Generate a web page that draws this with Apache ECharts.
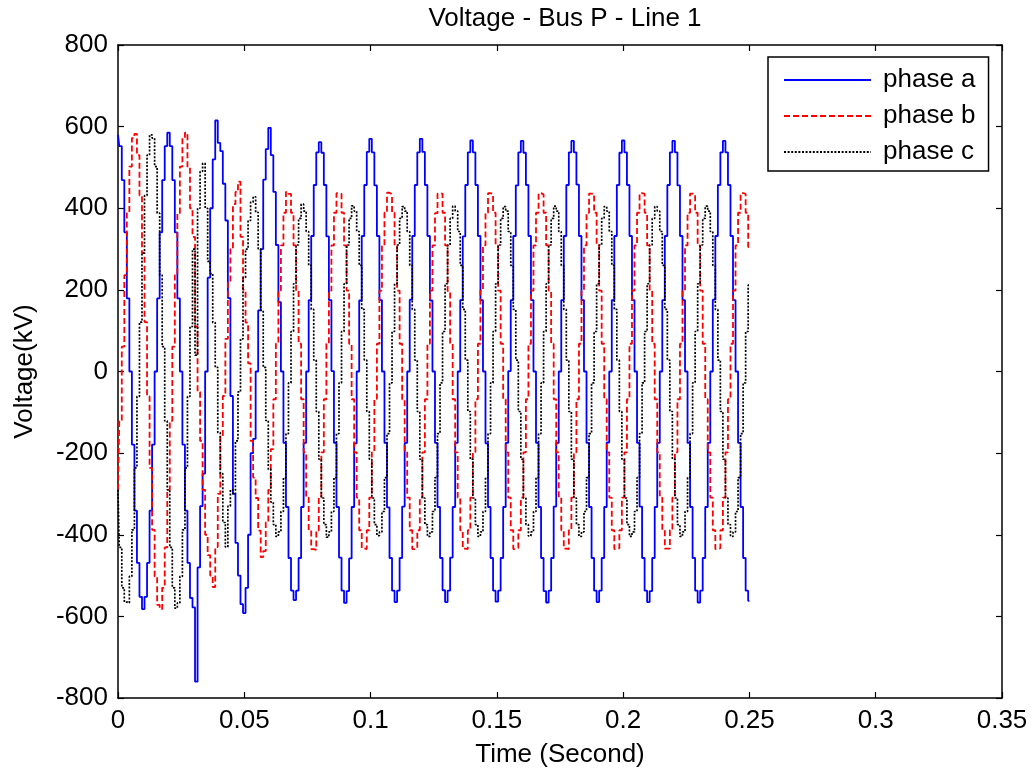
<!DOCTYPE html>
<html>
<head>
<meta charset="utf-8">
<script src="https://cdn.jsdelivr.net/npm/echarts@6/dist/echarts.min.js"></script>
<style>
html,body{margin:0;padding:0;background:#fff;}
#chart{width:1036px;height:774px;}
</style>
</head>
<body>
<div id="chart"></div>
<script>
// ---- data (kV), sampled every 1 ms from t = 0 s to t = 0.25 s ----
const seriesNames = ['phase a', 'phase b', 'phase c'];
const sampleStep = 0.001; // s
const xTickLabels = ['0', '0.05', '0.1', '0.15', '0.2', '0.25', '0.3', '0.35'];
const yTickLabels = ['-800', '-600', '-400', '-200', '0', '200', '400', '600', '800'];

const phaseA = [
  580, 552, 469, 341, 179, 0, -179, -341, -469, -552,
  -582, -552, -469, -341, -179, 0, 179, 341, 469, 552,
  585, 552, 469, 341, 179, 0, -179, -341, -469, -555,
  -578, -760, -480, -330, -250, 0, 230, 400, 520, 615,
  560, 540, 460, 370, 180, -60, -300, -420, -500, -570,
  -592, -530, -400, -200, -165, 0, 150, 300, 470, 545,
  597, 530, 440, 310, 170, 0, -175, -332, -457, -537,
  -560, -537, -457, -332, -175, 0, 175, 332, 457, 537,
  562, 536, 457, 331, 175, 1, -175, -332, -456, -537,
  -567, -538, -458, -332, -176, 0, 174, 332, 457, 538,
  570, 537, 456, 332, 175, 0, -175, -333, -457, -537,
  -565, -537, -457, -331, -175, 0, 176, 332, 457, 537,
  570, 538, 457, 332, 174, 0, -175, -332, -457, -536,
  -565, -537, -456, -332, -175, 0, 175, 331, 457, 537,
  566, 537, 457, 332, 175, 0, -176, -332, -457, -537,
  -564, -537, -457, -332, -175, 1, 175, 332, 456, 537,
  565, 536, 457, 332, 175, 0, -175, -332, -457, -538,
  -566, -537, -457, -331, -175, 0, 175, 332, 457, 537,
  565, 537, 458, 332, 175, 0, -175, -332, -457, -537,
  -565, -537, -457, -332, -174, 0, 175, 332, 457, 536,
  566, 537, 457, 332, 175, 0, -175, -331, -457, -537,
  -565, -538, -457, -332, -175, 0, 175, 332, 457, 537,
  565, 537, 456, 332, 175, 0, -175, -332, -457, -537,
  -566, -537, -457, -332, -175, 0, 176, 332, 457, 537,
  565, 537, 457, 332, 175, 0, -175, -332, -457, -537,
  -562
];

const phaseB = [
  -290, -121, 61, 236, 388, 502, 572, 582, 530, 431,
  290, 121, -61, -236, -388, -502, -572, -582, -530, -431,
  -290, -121, 61, 236, 388, 502, 572, 585, 500, 400,
  330, 110, -50, -170, -290, -400, -450, -500, -528, -430,
  -300, -160, -60, 80, 220, 300, 410, 440, 465, 330,
  200, 120, 20, -170, -260, -310, -390, -455, -440, -370,
  -290, -190, -68, 68, 198, 309, 389, 440, 435, 389,
  309, 198, 68, -68, -198, -309, -389, -435, -437, -389,
  -309, -198, -68, 68, 198, 309, 389, 437, 435, 389,
  309, 198, 68, -68, -198, -309, -389, -433, -435, -389,
  -309, -198, -67, 68, 198, 309, 389, 438, 434, 389,
  309, 198, 68, -68, -198, -309, -389, -435, -433, -389,
  -309, -198, -68, 68, 198, 309, 388, 436, 436, 389,
  309, 197, 68, -68, -198, -309, -389, -434, -435, -389,
  -309, -198, -68, 68, 198, 309, 389, 437, 435, 389,
  309, 198, 68, -68, -198, -309, -389, -435, -432, -389,
  -309, -198, -68, 68, 198, 309, 389, 437, 434, 389,
  309, 198, 68, -68, -198, -309, -389, -434, -435, -389,
  -309, -198, -68, 68, 198, 309, 389, 436, 436, 389,
  309, 198, 68, -68, -198, -309, -389, -435, -433, -389,
  -309, -198, -68, 68, 198, 309, 389, 437, 435, 389,
  309, 198, 68, -68, -198, -309, -389, -434, -434, -389,
  -309, -198, -68, 68, 198, 309, 389, 436, 435, 389,
  309, 198, 68, -68, -198, -309, -389, -435, -433, -389,
  -309, -198, -68, 68, 198, 309, 389, 437, 435, 389,
  305
];

const phaseC = [
  -290, -431, -530, -565, -567, -502, -388, -236, -61, 121,
  290, 431, 530, 580, 572, 502, 388, 236, 61, -121,
  -290, -431, -530, -580, -567, -502, -388, -236, -61, 110,
  300, 40, 400, 490, 510, 400, 270, 240, 120, 10,
  -150, -250, -370, -430, -330, -290, -300, -170, -50, 80,
  230, 300, 370, 415, 428, 390, 300, 150, 10, -120,
  -240, -320, -375, -404, -393, -343, -260, -152, -28, 98,
  215, 310, 375, 410, 393, 343, 260, 152, 28, -98,
  -215, -310, -375, -406, -393, -343, -260, -152, -28, 98,
  215, 310, 375, 406, 393, 343, 260, 152, 28, -98,
  -215, -310, -375, -402, -393, -343, -260, -152, -28, 98,
  215, 310, 375, 404, 393, 343, 260, 152, 28, -98,
  -215, -310, -375, -404, -393, -343, -260, -152, -28, 98,
  215, 310, 375, 405, 393, 343, 260, 152, 28, -98,
  -215, -310, -375, -404, -393, -343, -260, -152, -28, 98,
  215, 310, 375, 404, 393, 343, 260, 152, 28, -98,
  -215, -310, -375, -403, -393, -343, -260, -152, -28, 98,
  215, 310, 375, 405, 393, 343, 260, 152, 28, -98,
  -215, -310, -375, -404, -393, -343, -260, -152, -28, 98,
  215, 310, 375, 404, 393, 343, 260, 152, 28, -98,
  -215, -310, -375, -404, -393, -343, -260, -152, -28, 98,
  215, 310, 375, 404, 393, 343, 260, 152, 28, -98,
  -215, -310, -375, -404, -393, -343, -260, -152, -28, 98,
  215, 310, 375, 405, 393, 343, 260, 152, 28, -98,
  -215, -310, -375, -404, -393, -343, -260, -152, -28, 98,
  212
];

// ---- build chart ----
const time = phaseA.map((_, i) => +(i * sampleStep).toFixed(3));
const pairs = arr => arr.map((v, i) => [time[i], v]);

const FONT = '"Liberation Sans", Arial, Helvetica, sans-serif';
const xMin = 0, xMax = 0.35, xInt = 0.05;
const yMin = -800, yMax = 800, yInt = 200;

const tickCommon = {
  axisLine: { show: true, onZero: false, lineStyle: { color: '#000', width: 1.5 } },
  axisTick: { show: true, inside: true, length: 6, lineStyle: { color: '#000', width: 1.2 } },
  splitLine: { show: false }
};

const chart = echarts.init(document.getElementById('chart'), null, { renderer: 'canvas' });
chart.setOption({
  animation: false,
  backgroundColor: '#fff',
  textStyle: { fontFamily: FONT, color: '#000' },
  title: {
    text: 'Voltage - Bus P - Line 1',
    left: 560,
    top: 1,
    textAlign: 'center',
    textStyle: { fontFamily: FONT, fontSize: 26, fontWeight: 'normal', color: '#000' }
  },
  grid: { left: 118, right: 34, top: 45, bottom: 76, containLabel: false },
  legend: {
    orient: 'vertical',
    left: 768,
    top: 57,
    padding: [7, 13, 3, 15],
    itemWidth: 87,
    itemHeight: 14,
    itemGap: 4,
    backgroundColor: '#fff',
    borderColor: '#000',
    borderWidth: 1.5,
    borderRadius: 0,
    itemStyle: { opacity: 0 },
    data: seriesNames,
    textStyle: { fontFamily: FONT, fontSize: 26, color: '#000', lineHeight: 32, padding: [0, 0, 0, 7] }
  },
  xAxis: [
    Object.assign({
      type: 'value', position: 'bottom', min: xMin, max: xMax, interval: xInt,
      name: 'Time (Second)', nameLocation: 'middle', nameGap: 44,
      nameTextStyle: { fontFamily: FONT, fontSize: 26, color: '#000' },
      axisLabel: {
        show: true, margin: 10, fontFamily: FONT, fontSize: 26, color: '#000',
        formatter: v => xTickLabels[Math.round((v - xMin) / xInt)]
      }
    }, tickCommon),
    Object.assign({
      type: 'value', position: 'top', min: xMin, max: xMax, interval: xInt,
      axisLabel: { show: false }
    }, tickCommon)
  ],
  yAxis: [
    Object.assign({
      type: 'value', position: 'left', min: yMin, max: yMax, interval: yInt,
      name: 'Voltage(kV)', nameLocation: 'middle', nameGap: 80, nameRotate: 90,
      nameTextStyle: { fontFamily: FONT, fontSize: 26, color: '#000' },
      axisLabel: {
        show: true, margin: 10, fontFamily: FONT, fontSize: 26, color: '#000',
        formatter: v => yTickLabels[Math.round((v - yMin) / yInt)]
      }
    }, tickCommon),
    Object.assign({
      type: 'value', position: 'right', min: yMin, max: yMax, interval: yInt,
      axisLabel: { show: false }
    }, tickCommon)
  ],
  series: [
    {
      name: seriesNames[0], type: 'line', xAxisIndex: 0, yAxisIndex: 0,
      data: pairs(phaseA), step: 'middle', symbol: 'none', showSymbol: false,
      lineStyle: { color: '#0000ff', width: 1.8, type: 'solid' },
      itemStyle: { color: '#0000ff' }
    },
    {
      name: seriesNames[1], type: 'line', xAxisIndex: 0, yAxisIndex: 0,
      data: pairs(phaseB), step: 'middle', symbol: 'none', showSymbol: false,
      lineStyle: { color: '#ff0000', width: 1.8, type: [6, 3] },
      itemStyle: { color: '#ff0000' }
    },
    {
      name: seriesNames[2], type: 'line', xAxisIndex: 0, yAxisIndex: 0,
      data: pairs(phaseC), step: 'middle', symbol: 'none', showSymbol: false,
      lineStyle: { color: '#000000', width: 1.7, type: [2, 1.6] },
      itemStyle: { color: '#000000' }
    }
  ]
});
</script>
</body>
</html>
